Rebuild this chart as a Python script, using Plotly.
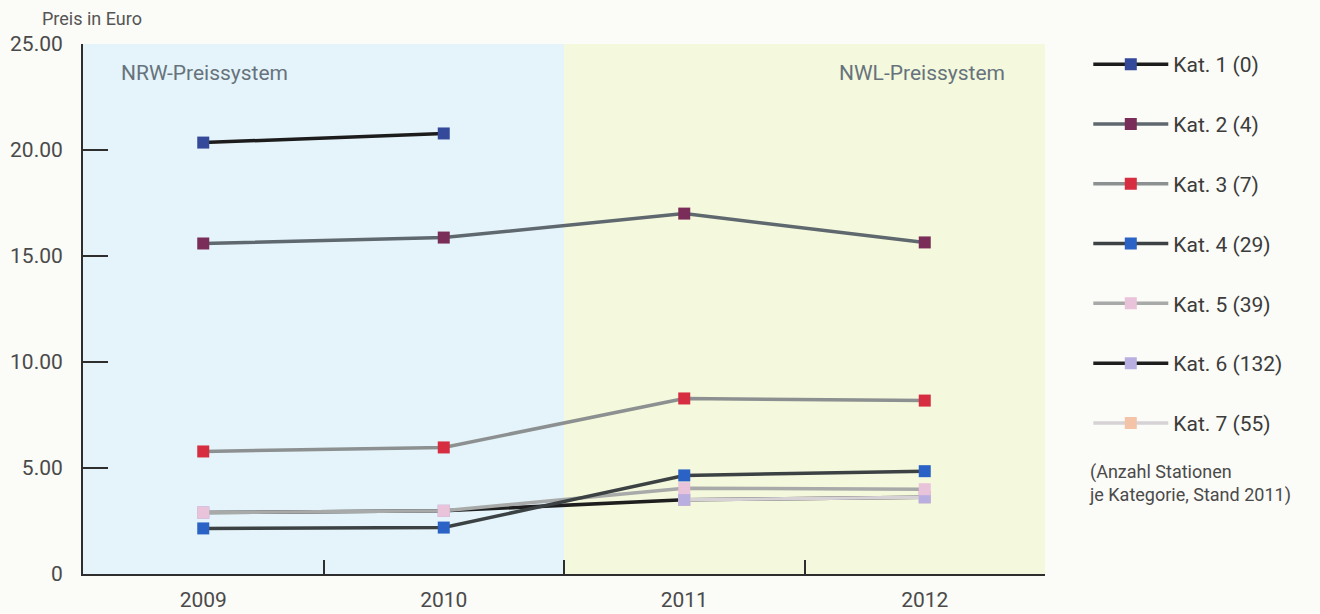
import plotly.graph_objects as go

years = ["2009", "2010", "2011", "2012"]
kat1 = [20.35, 20.78, None, None]
kat2 = [15.59, 15.87, 17.0, 15.64]
kat3 = [5.78, 5.97, 8.28, 8.18]
kat4 = [2.15, 2.19, 4.65, 4.85]
kat5 = [2.9, 2.98, 4.05, 4.0]
kat6 = [2.9, 2.98, 3.5, 3.62]
kat7 = [None, None, 3.5, 3.62]

names = ["Kat. 1 (0)", "Kat. 2 (4)", "Kat. 3 (7)", "Kat. 4 (29)",
         "Kat. 5 (39)", "Kat. 6 (132)", "Kat. 7 (55)"]
line_colors = ["#1c1c1c", "#5e686e", "#8c9090", "#3c4244", "#a8aaaa", "#1e1e1e", "#d6d2d6"]
marker_colors = ["#34499a", "#7a2d58", "#d62d40", "#2a62c6", "#e9c3d9", "#b8aee0", "#f4c4a8"]

yticks = [0, 5, 10, 15, 20, 25]
yticklabels = ["0", "5.00", "10.00", "15.00", "20.00", "25.00"]

series = [kat1, kat2, kat3, kat4, kat5, kat6, kat7]
draw_order = [0, 1, 2, 5, 6, "6m", 4, 3]

fig = go.Figure()
for idx in draw_order:
    if idx == "6m":
        fig.add_trace(go.Scatter(
            x=years, y=kat6, mode="markers", showlegend=False, hoverinfo="skip",
            marker=dict(symbol="square", size=12, color=marker_colors[5]),
        ))
        continue
    fig.add_trace(go.Scatter(
        x=years, y=series[idx], mode="lines+markers", name=names[idx],
        legendrank=idx + 1, legendgroup=f"g{idx}",
        line=dict(color=line_colors[idx], width=3.5),
        marker=dict(symbol="square", size=12, color=marker_colors[idx]),
    ))

fig.add_shape(type="rect", xref="x", yref="y", x0=-0.5, x1=1.5, y0=0, y1=25,
              fillcolor="#e5f4fa", line_width=0, layer="below")
fig.add_shape(type="rect", xref="x", yref="y", x0=1.5, x1=3.5, y0=0, y1=25,
              fillcolor="#f4f8dc", line_width=0, layer="below")

font_family = "Roboto, 'Open Sans', sans-serif"
fig.update_layout(
    width=1320, height=614,
    margin=dict(l=83, r=275, t=44, b=40),
    paper_bgcolor="#fbfbf7", plot_bgcolor="#fbfbf7",
    font=dict(family=font_family, color="#4a4a4a"),
    showlegend=True,
    legend=dict(x=1.045, y=1.0, xanchor="left", yanchor="top",
                font=dict(size=21, color="#3c3c3c"), tracegroupgap=29.5,
                bgcolor="rgba(0,0,0,0)", itemwidth=75),
    xaxis=dict(type="category", range=[-0.5, 3.5], showgrid=False, automargin=False,
               showline=True, linecolor="#2e2e2e", linewidth=2,
               ticks="inside", ticklen=14, tickwidth=2, tickcolor="#2e2e2e",
               tickson="boundaries", tickfont=dict(size=21, color="#4a4a4a"),
               ticklabelstandoff=6),
    yaxis=dict(range=[0, 25], showgrid=False, zeroline=False, automargin=False,
               showline=True, linecolor="#2e2e2e", linewidth=2,
               tickvals=yticks, ticktext=yticklabels,
               ticks="inside", ticklen=25, tickwidth=2, tickcolor="#2e2e2e",
               tickfont=dict(size=21, color="#4a4a4a"), ticklabelstandoff=14),
    annotations=[
        dict(text="Preis in Euro", xref="paper", yref="paper", x=-0.045, y=1.025,
             xanchor="left", yanchor="bottom", showarrow=False,
             font=dict(size=18, color="#555555")),
        dict(text="NRW-Preissystem", xref="x", yref="y", x=-0.351, y=23.63,
             xanchor="left", yanchor="middle", showarrow=False,
             font=dict(size=21, color="#67737c")),
        dict(text="NWL-Preissystem", xref="x", yref="y", x=3.34, y=23.63,
             xanchor="right", yanchor="middle", showarrow=False,
             font=dict(size=21, color="#67737c")),
        dict(text="(Anzahl Stationen<br>je Kategorie, Stand 2011)", xref="paper", yref="paper",
             x=1.044, y=0.217, xanchor="left", yanchor="top", align="left", showarrow=False,
             font=dict(size=18, color="#4a4a4a")),
    ],
)

fig.write_html("out.html", config={"displayModeBar": False},
               post_script="document.body.style.margin='0';document.body.style.background='#fbfbf7';")
